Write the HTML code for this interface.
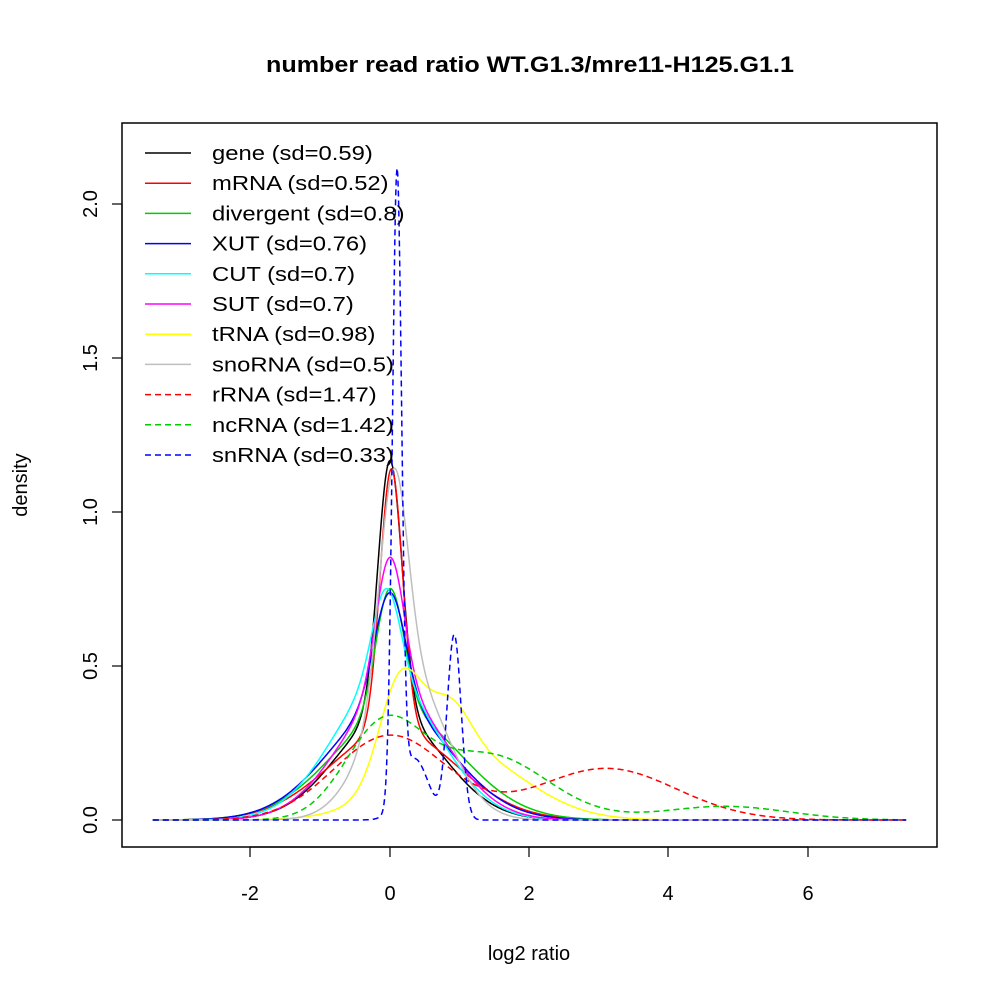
<!DOCTYPE html>
<html><head><meta charset="utf-8"><style>body{margin:0;background:#fff}svg text{font-family:"Liberation Sans",sans-serif}</style></head>
<body>
<svg id="s" width="1000" height="1000" xmlns="http://www.w3.org/2000/svg">
<rect width="1000" height="1000" fill="#fff"/>
<text x="530" y="72" font-size="22" font-weight="bold" text-anchor="middle" textLength="528" lengthAdjust="spacingAndGlyphs">number read ratio WT.G1.3/mre11-H125.G1.1</text>
<rect x="122" y="123" width="815" height="724" fill="none" stroke="#000" stroke-width="1.5"/>
<g stroke="#000" stroke-width="1.2">
<line x1="250" y1="847" x2="808" y2="847"/>
<line x1="250" y1="847" x2="250" y2="857"/><line x1="390" y1="847" x2="390" y2="857"/><line x1="529" y1="847" x2="529" y2="857"/><line x1="668" y1="847" x2="668" y2="857"/><line x1="808" y1="847" x2="808" y2="857"/>
<line x1="122" y1="820" x2="122" y2="204"/>
<line x1="112" y1="820" x2="122" y2="820"/><line x1="112" y1="666" x2="122" y2="666"/><line x1="112" y1="512" x2="122" y2="512"/><line x1="112" y1="358" x2="122" y2="358"/><line x1="112" y1="204" x2="122" y2="204"/>
</g>
<g font-size="20" text-anchor="middle">
<text x="250" y="900">-2</text><text x="390" y="900">0</text><text x="529" y="900">2</text><text x="668" y="900">4</text><text x="808" y="900">6</text>
<text x="529" y="960">log2 ratio</text>
<text transform="translate(97,820) rotate(-90)">0.0</text>
<text transform="translate(97,666) rotate(-90)">0.5</text>
<text transform="translate(97,512) rotate(-90)">1.0</text>
<text transform="translate(97,358) rotate(-90)">1.5</text>
<text transform="translate(97,204) rotate(-90)">2.0</text>
<text transform="translate(27,485) rotate(-90)">density</text>
</g>
<g id="curves" fill="none" stroke-width="1.5"></g>
<g id="leg" font-size="20"></g>
</svg>
<script>
var C=[
["gene (sd=0.59)","#000",0,[[0.35,0,0.17],[0.65,0,0.75]]],
["mRNA (sd=0.52)","#f00",0,[[0.34,0.02,0.16],[0.66,0.05,0.9]]],
["divergent (sd=0.8)","#0c0",0,[[0.2,0,0.2],[0.8,0.1,0.9]]],
["XUT (sd=0.76)","#00f",0,[[0.2,0,0.22],[0.8,0,0.85]]],
["CUT (sd=0.7)","#0ff",0,[[0.15,-0.05,0.2],[0.85,-0.05,0.75]]],
["SUT (sd=0.7)","#f0f",0,[[0.22,0,0.2],[0.78,0.05,0.75]]],
["tRNA (sd=0.98)","#ff0",0,[[0.25,0.15,0.3],[0.12,0.85,0.3],[0.5,1.0,0.9]]],
["snoRNA (sd=0.5)","#bebebe",0,[[0.35,0.05,0.2],[0.65,0.25,0.55]]],
["rRNA (sd=1.47)","#f00",1,[[0.55,0,0.8],[0.42,3.1,1.0]]],
["ncRNA (sd=1.42)","#0c0",1,[[0.4,-0.1,0.55],[0.45,1.4,0.85],[0.1,4.8,0.9]]],
["snRNA (sd=0.33)","#00f",1,[[0.33,0.1,0.065],[0.15,0.92,0.1],[0.1,0.35,0.2]]]];
var ns="http://www.w3.org/2000/svg",g=document.getElementById("curves"),L=document.getElementById("leg");
function X(v){return 390+v*69.75}function Y(v){return 820-v*308}
C.forEach(function(c,i){var d="";for(var x=-3.4;x<=7.4;x+=0.01){var y=0;c[3].forEach(function(k){y+=k[0]/(k[2]*2.5066)*Math.exp(-0.5*Math.pow((x-k[1])/k[2],2))});d+=(d?"L":"M")+X(x).toFixed(1)+","+Y(y).toFixed(1);}
var p=document.createElementNS(ns,"path");p.setAttribute("d",d);p.setAttribute("stroke",c[1]);if(c[2])p.setAttribute("stroke-dasharray","6,4");g.appendChild(p);
var yy=153+i*30.2;var l=document.createElementNS(ns,"line");l.setAttribute("x1",145);l.setAttribute("x2",191);l.setAttribute("y1",yy);l.setAttribute("y2",yy);l.setAttribute("stroke",c[1]);l.setAttribute("stroke-width",1.5);if(c[2])l.setAttribute("stroke-dasharray","6,4");L.appendChild(l);
var t=document.createElementNS(ns,"text");t.setAttribute("x",212);t.setAttribute("y",yy+7);t.textContent=c[0];L.appendChild(t);
var w=t.getComputedTextLength();if(w>0){t.setAttribute("textLength",(w*1.19).toFixed(1));t.setAttribute("lengthAdjust","spacingAndGlyphs");}});
</script>
</body></html>
